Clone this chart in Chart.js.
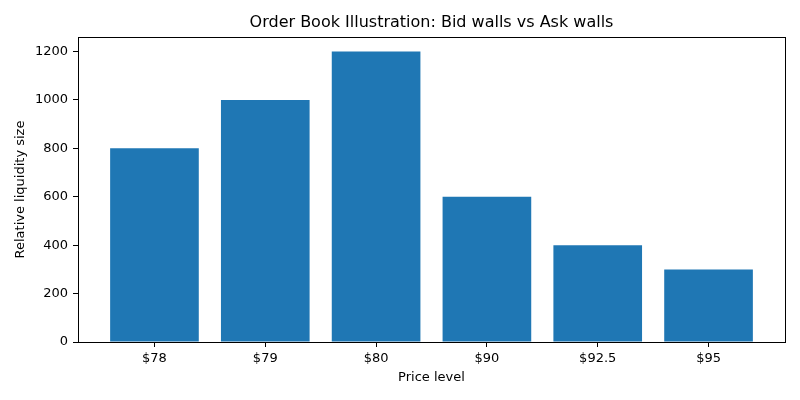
<!DOCTYPE html>
<html>
<head>
<meta charset="utf-8">
<script src="https://cdn.jsdelivr.net/npm/chart.js@4/dist/chart.umd.min.js"></script>
<style>
html,body{margin:0;padding:0;background:#fff;}
#wrap{width:800px;height:400px;position:relative;}
</style>
</head>
<body>
<div id="wrap"><canvas id="c" width="800" height="400"></canvas></div>
<script>
const categories = ["$78", "$79", "$80", "$90", "$92.5", "$95"];
const liquidity = [800, 1000, 1200, 600, 400, 300];
const yTicks = [0, 200, 400, 600, 800, 1000, 1200];
const chartTitle = "Order Book Illustration: Bid walls vs Ask walls";
const xTitle = "Price level";
const yTitle = "Relative liquidity size";

const FONT = "'DejaVu Sans', sans-serif";

const framePlugin = {
  id: 'frame',
  afterDraw(chart) {
    const {ctx, chartArea: a} = chart;
    ctx.save();
    ctx.strokeStyle = '#000';
    ctx.lineWidth = 1;
    ctx.strokeRect(Math.round(a.left) + 0.5, Math.round(a.top) + 0.5, Math.round(a.right - a.left), Math.round(a.bottom - a.top));
    ctx.fillStyle = '#000';
    ctx.font = "16px " + FONT;
    ctx.textAlign = 'center';
    ctx.textBaseline = 'middle';
    ctx.fillText(chartTitle, (a.left + a.right) / 2, 23);
    ctx.restore();
  }
};

new Chart(document.getElementById('c'), {
  type: 'bar',
  data: {
    datasets: [{
      data: liquidity.map((v, i) => ({x: i, y: v})),
      backgroundColor: '#1f77b4',
      borderColor: '#1f77b4',
      borderWidth: 0,
      inflateAmount: 0,
      barPercentage: 0.8,
      categoryPercentage: 1.0
    }]
  },
  options: {
    responsive: false,
    animation: false,
    layout: {padding: {left: 0, right: 15, top: 37, bottom: 0}},
    plugins: {legend: {display: false}, tooltip: {enabled: false}, title: {display: false}},
    scales: {
      x: {
        type: 'linear',
        offset: false,
        min: -0.69, max: 5.69,
        afterBuildTicks: s => { s.ticks = categories.map((_, i) => ({value: i})); },
        afterFit: s => { s.height = 58; },
        ticks: {
          autoSkip: false, maxRotation: 0,
          callback: v => categories[v],
          color: '#000', font: {family: FONT, size: 13}, padding: 4
        },
        grid: {display: true, offset: false, drawOnChartArea: false, drawTicks: true, tickLength: 5, tickColor: '#000'},
        border: {display: true, color: '#000', width: 1},
        title: {display: true, text: xTitle, color: '#000', font: {family: FONT, size: 13}, padding: {top: 0, bottom: 15}}
      },
      y: {
        min: 0, max: 1260,
        afterBuildTicks: s => { s.ticks = yTicks.map(v => ({value: v})); },
        afterFit: s => { s.width = 78; },
        ticks: {color: '#000', font: {family: FONT, size: 13}, padding: 5, callback: v => String(v)},
        grid: {display: true, drawOnChartArea: false, drawTicks: true, tickLength: 5, tickColor: '#000'},
        border: {display: true, color: '#000', width: 1},
        title: {display: true, text: yTitle, color: '#000', font: {family: FONT, size: 13}, padding: {top: 13, bottom: 0}}
      }
    }
  },
  plugins: [framePlugin]
});
</script>
</body>
</html>
